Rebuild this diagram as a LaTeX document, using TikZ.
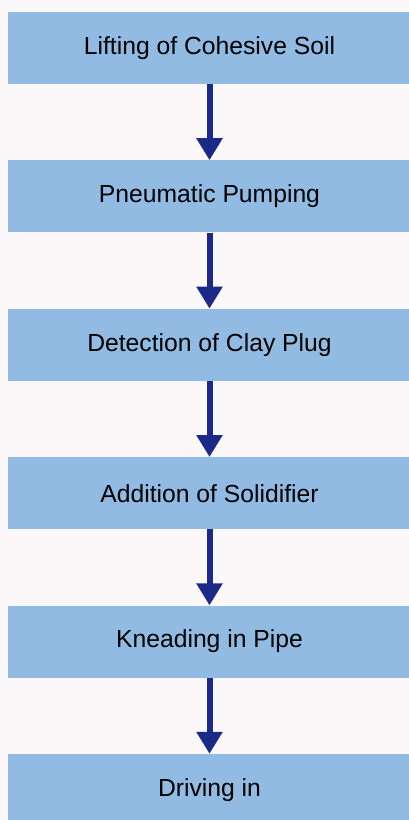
\documentclass[tikz,border=0pt]{standalone}
\usepackage{fontspec}
\setmainfont{Liberation Sans}
\usetikzlibrary{arrows.meta}
\usetikzlibrary{positioning}

\definecolor{boxblue}{HTML}{92BBE3}
\definecolor{arrownavy}{HTML}{1B2A86}
\definecolor{paper}{HTML}{FCF8F9}

\begin{document}
\begin{tikzpicture}[x=1pt, y=1pt,
    stage/.style={fill=boxblue, minimum width=403pt, minimum height=72pt, inner sep=0pt, font=\fontsize{24.7}{30}\selectfont},
    flow/.style={arrownavy, line width=6pt, -{Triangle[width=25pt, length=22pt]}},
    node distance=76pt]
    \clip (0, 0) rectangle (409, -820);
    \fill[paper] (0, 0) rectangle (409, -820);
    
    \node[stage] (lift) at (209.5, -48) {Lifting of Cohesive Soil};
    \node[stage, below=of lift] (pump) {Pneumatic Pumping};
    \node[stage, below=of pump] (detect) {Detection of Clay Plug};
    \node[stage, below=of detect] (solid) {Addition of Solidifier};
    \node[stage, below=of solid] (knead) {Kneading in Pipe};
    \node[stage, below=of knead] (drive) {Driving in};
    
    \draw[flow] (lift) -- (pump);
    \draw[flow] (pump) -- (detect);
    \draw[flow] (detect) -- (solid);
    \draw[flow] (solid) -- (knead);
    \draw[flow] (knead) -- (drive);
    
\end{tikzpicture}
\end{document}
